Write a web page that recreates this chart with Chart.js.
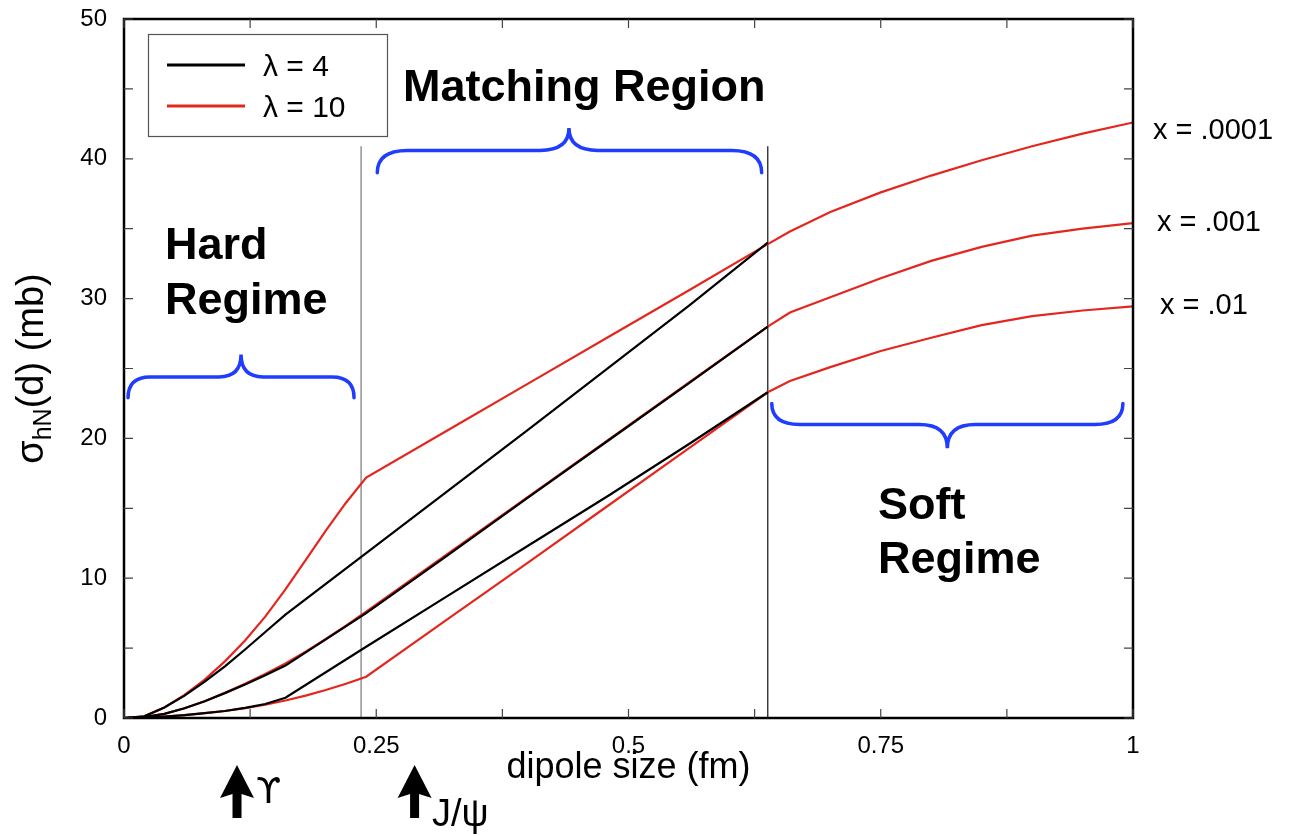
<!DOCTYPE html>
<html>
<head>
<meta charset="utf-8">
<script src="https://cdn.jsdelivr.net/npm/chart.js@4.4.1/dist/chart.umd.min.js"></script>
<style>
  html, body { margin: 0; padding: 0; background: #fff; }
  canvas { display: block; }
</style>
</head>
<body>
<canvas id="c" width="1298" height="836"></canvas>
<script>
// Dipole sizes (fm) sampled for the lambda = 10 curves
const dRed = [0, 0.02, 0.04, 0.06, 0.08, 0.10, 0.12, 0.14, 0.16, 0.18, 0.20, 0.22, 0.24,
              0.32, 0.40, 0.48, 0.56, 0.638,
              0.66, 0.70, 0.75, 0.80, 0.85, 0.90, 0.95, 1.0];
// sigma_hN(d) in mb, lambda = 10
const sigRed_x0001 = [0, 0.12, 0.75, 1.65, 2.75, 4.05, 5.55, 7.25, 9.2, 11.3, 13.4, 15.4, 17.2,
                      20.55, 23.9, 27.25, 30.6, 33.9,
                      34.8, 36.2, 37.6, 38.8, 39.9, 40.9, 41.8, 42.6];
const sigRed_x001  = [0, 0.06, 0.3, 0.7, 1.2, 1.8, 2.45, 3.15, 3.9, 4.75, 5.65, 6.6, 7.6,
                      11.7, 15.8, 19.9, 24.0, 28.0,
                      29.0, 30.1, 31.45, 32.7, 33.7, 34.5, 35.0, 35.4];
const sigRed_x01   = [0, 0.02, 0.1, 0.2, 0.35, 0.5, 0.7, 0.95, 1.25, 1.6, 2.0, 2.45, 2.95,
                      7.04, 11.1, 15.2, 19.3, 23.3,
                      24.1, 25.1, 26.25, 27.2, 28.1, 28.75, 29.15, 29.45];

// Dipole sizes (fm) sampled for the lambda = 4 curves
const dBlack = [0, 0.02, 0.04, 0.06, 0.08, 0.10, 0.12, 0.14, 0.16,
                0.24, 0.32, 0.40, 0.48, 0.56, 0.638];
// sigma_hN(d) in mb, lambda = 4
const sigBlack_x0001 = [0, 0.12, 0.75, 1.6, 2.6, 3.7, 4.9, 6.15, 7.4,
                        11.8, 16.2, 20.6, 25.05, 29.5, 34.0];
const sigBlack_x001  = [0, 0.06, 0.3, 0.7, 1.2, 1.78, 2.4, 3.05, 3.75,
                        7.5, 11.6, 15.75, 19.85, 23.95, 28.0];
const sigBlack_x01   = [0, 0.02, 0.1, 0.2, 0.35, 0.5, 0.72, 1.0, 1.45,
                        5.1, 8.7, 12.3, 15.9, 19.6, 23.3];

// Axis ranges and ticks
const xRange = [0, 1];
const xStep = 0.25;
const xTickLabels = ['0', '0.25', '0.5', '0.75', '1'];
const yRange = [0, 50];
const yStep = 10;

// Regime boundaries (fm)
const boundaries = [0.235, 0.638];

// Text
const legendLabels = ['\u03BB = 4', '\u03BB = 10'];
const curveLabels = ['x = .0001', 'x = .001', 'x = .01'];
const curveLabelLevels = [42.0, 35.4, 29.5];

const RED = '#e3261e';
const BLACK = '#000000';
const BLUE = '#1f3cff';
const FONT = '"Liberation Sans", Arial, Helvetica, sans-serif';

function pts(ds, vs) { return ds.map((d, i) => ({ x: d, y: vs[i] })); }

function lineSet(label, ds, vs, color) {
  return {
    label, data: pts(ds, vs), borderColor: color, backgroundColor: color,
    borderWidth: 2.2, pointRadius: 0, tension: 0, fill: false
  };
}

function brace(ctx, x1, x2, xm, yEnd, yH, yTip, r, r2) {
  ctx.beginPath();
  ctx.moveTo(x1, yEnd);
  ctx.quadraticCurveTo(x1, yH, x1 + r, yH);
  ctx.lineTo(xm - r2, yH);
  ctx.quadraticCurveTo(xm, yH, xm, yTip);
  ctx.quadraticCurveTo(xm, yH, xm + r2, yH);
  ctx.lineTo(x2 - r, yH);
  ctx.quadraticCurveTo(x2, yH, x2, yEnd);
  ctx.stroke();
}

function arrowUp(ctx, cx, yTip, yBase) {
  const headH = 33, headW = 17, shaft = 4.5;
  ctx.beginPath();
  ctx.moveTo(cx, yTip);
  ctx.lineTo(cx + headW, yTip + headH);
  ctx.lineTo(cx + shaft, yTip + headH - 4);
  ctx.lineTo(cx + shaft, yBase);
  ctx.lineTo(cx - shaft, yBase);
  ctx.lineTo(cx - shaft, yTip + headH - 4);
  ctx.lineTo(cx - headW, yTip + headH);
  ctx.closePath();
  ctx.fill();
}

const decorations = {
  id: 'decorations',
  beforeDatasetsDraw(chart) {
    const { ctx, scales: { x, y } } = chart;
    ctx.save();
    const colors = ['#8a8a8a', '#333333'];
    boundaries.forEach((d, i) => {
      const px = x.getPixelForValue(d);
      ctx.strokeStyle = colors[i];
      ctx.lineWidth = 1.4;
      ctx.beginPath();
      ctx.moveTo(px, y.getPixelForValue(0));
      ctx.lineTo(px, y.getPixelForValue(40.9));
      ctx.stroke();
    });
    ctx.restore();
  },
  afterDraw(chart) {
    const { ctx, chartArea: a, scales: { x, y } } = chart;
    ctx.save();

    // frame
    ctx.strokeStyle = '#000';
    ctx.lineWidth = 2.5;
    ctx.strokeRect(a.left, a.top, a.right - a.left, a.bottom - a.top);

    // inward ticks on all four sides
    ctx.strokeStyle = '#444';
    ctx.lineWidth = 1.2;
    const tl = 9;
    for (let v = xRange[0]; v <= xRange[1] + 1e-9; v += xStep / 2) {
      const px = x.getPixelForValue(v);
      ctx.beginPath();
      ctx.moveTo(px, a.bottom); ctx.lineTo(px, a.bottom - tl);
      ctx.moveTo(px, a.top); ctx.lineTo(px, a.top + tl);
      ctx.stroke();
    }
    for (let v = yRange[0]; v <= yRange[1] + 1e-9; v += yStep / 2) {
      const py = y.getPixelForValue(v);
      ctx.beginPath();
      ctx.moveTo(a.left, py); ctx.lineTo(a.left + tl, py);
      ctx.moveTo(a.right, py); ctx.lineTo(a.right - tl, py);
      ctx.stroke();
    }

    // legend
    ctx.strokeStyle = '#555';
    ctx.lineWidth = 1.2;
    ctx.strokeRect(148.5, 34.5, 239, 102);
    [[BLACK, 65, 76], [RED, 106, 117]].forEach(([c, ly, by], i) => {
      ctx.strokeStyle = c;
      ctx.lineWidth = 3;
      ctx.beginPath(); ctx.moveTo(167, ly); ctx.lineTo(245, ly); ctx.stroke();
      ctx.fillStyle = '#000';
      ctx.font = '30px ' + FONT;
      ctx.textAlign = 'left';
      ctx.textBaseline = 'alphabetic';
      ctx.fillText(legendLabels[i], 263, by);
    });

    // curve labels at the right edge
    ctx.font = '29px ' + FONT;
    ctx.fillStyle = '#000';
    ctx.textBaseline = 'middle';
    const lx = [1153, 1157, 1160];
    curveLabels.forEach((t, i) => ctx.fillText(t, lx[i], y.getPixelForValue(curveLabelLevels[i])));

    // region titles
    ctx.font = 'bold 45px ' + FONT;
    ctx.textBaseline = 'alphabetic';
    ctx.fillText('Matching Region', 403, 101);
    ctx.fillText('Hard', 165, 259);
    ctx.fillText('Regime', 165, 314);
    ctx.fillText('Soft', 878, 519);
    ctx.fillText('Regime', 878, 573);

    // braces
    ctx.strokeStyle = BLUE;
    ctx.lineWidth = 3.5;
    ctx.lineCap = 'round';
    const X = v => x.getPixelForValue(v), Y = v => y.getPixelForValue(v);
    brace(ctx, X(0.004), X(0.228), X(0.116), Y(22.9), Y(24.4), Y(26.0), 22, 22);
    brace(ctx, X(0.251), X(0.632), X(0.441), Y(39.0), Y(40.6), Y(42.2), 30, 29);
    brace(ctx, X(0.642), X(0.990), X(0.816), Y(22.5), Y(21.0), Y(19.3), 28, 28);

    // quarkonium size markers
    ctx.fillStyle = '#000';
    arrowUp(ctx, X(0.112), 765, 818);
    arrowUp(ctx, X(0.288), 765, 818);
    ctx.textAlign = 'left';
    ctx.font = '36px "DejaVu Sans"';
    ctx.fillText('\u03D2', 256, 803);
    ctx.font = '38px ' + FONT;
    ctx.fillText('J/\u03C8', 432, 826);

    // axis titles
    ctx.font = '36px ' + FONT;
    ctx.textAlign = 'center';
    ctx.fillText('dipole size (fm)', (a.left + a.right) / 2, 778);

    ctx.translate(43, (a.top + a.bottom) / 2);
    ctx.rotate(-Math.PI / 2);
    const big = '38px ' + FONT, small = '25px ' + FONT;
    ctx.font = big; const w1 = ctx.measureText('\u03C3').width;
    ctx.font = small; const w2 = ctx.measureText('hN').width;
    ctx.font = big; const w3 = ctx.measureText('(d) (mb)').width;
    let cx = -(w1 + w2 + w3) / 2;
    ctx.textAlign = 'left';
    ctx.font = big; ctx.fillText('\u03C3', cx, 0); cx += w1;
    ctx.font = small; ctx.fillText('hN', cx, 8); cx += w2;
    ctx.font = big; ctx.fillText('(d) (mb)', cx, 0);

    ctx.restore();
  }
};

new Chart(document.getElementById('c'), {
  type: 'line',
  data: {
    datasets: [
      lineSet('lambda 4, x=.0001', dBlack, sigBlack_x0001, BLACK),
      lineSet('lambda 4, x=.001', dBlack, sigBlack_x001, BLACK),
      lineSet('lambda 4, x=.01', dBlack, sigBlack_x01, BLACK),
      lineSet('lambda 10, x=.0001', dRed, sigRed_x0001, RED),
      lineSet('lambda 10, x=.001', dRed, sigRed_x001, RED),
      lineSet('lambda 10, x=.01', dRed, sigRed_x01, RED)
    ]
  },
  options: {
    responsive: false,
    animation: false,
    devicePixelRatio: 1,
    layout: { autoPadding: false, padding: { top: 19, right: 165, left: 0, bottom: 0 } },
    plugins: { legend: { display: false }, tooltip: { enabled: false } },
    scales: {
      x: {
        type: 'linear', min: xRange[0], max: xRange[1],
        grid: { display: false, drawTicks: false },
        border: { display: false },
        ticks: {
          stepSize: xStep, padding: 14, color: '#000', font: { family: FONT, size: 24 },
          callback: (v) => xTickLabels[Math.round(v / xStep)]
        },
        afterFit(s) { s.height = 118; s.paddingLeft = 0; s.paddingRight = 0; }
      },
      y: {
        type: 'linear', min: yRange[0], max: yRange[1],
        grid: { display: false, drawTicks: false },
        border: { display: false },
        ticks: { stepSize: yStep, padding: 17, color: '#000', font: { family: FONT, size: 24 } },
        afterFit(s) { s.width = 124; s.paddingTop = 0; s.paddingBottom = 0; }
      }
    }
  },
  plugins: [decorations]
});
</script>
</body>
</html>
